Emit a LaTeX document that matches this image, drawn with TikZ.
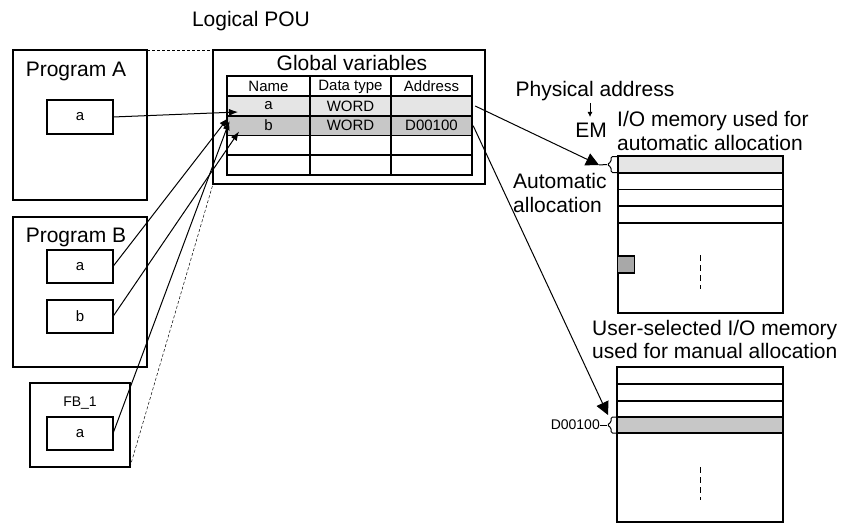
\documentclass[tikz,border=0pt]{standalone}
\usepackage{fontspec}
\setmainfont{Liberation Sans}
\usetikzlibrary{arrows.meta}
\definecolor{lightrow}{gray}{0.9}
\definecolor{midrow}{gray}{0.78}
\definecolor{cellsq}{gray}{0.66}

\begin{document}
\begin{tikzpicture}[x=1pt,y=-1pt,
  frame/.style={draw,line width=1.1pt,inner sep=0pt,outer sep=0pt},
  big/.style={font=\fontsize{21}{24}\selectfont,inner sep=0pt},
  small/.style={font=\fontsize{15}{18}\selectfont,inner sep=0pt},
  tiny/.style={font=\fontsize{14}{16}\selectfont,inner sep=0pt},
  conn/.style={line width=1pt,arrows={-Latex[length=9pt,width=7pt]}},
  bigconn/.style={line width=1pt,arrows={-Triangle[length=13pt,width=13pt]}},
  guide/.style={line width=0.5pt,dash pattern=on 3pt off 2pt},
  grid/.style={line width=1.2pt},
  midline/.style={line width=0.8pt,dash pattern=on 6pt off 4pt}]
\useasboundingbox (0,0) rectangle (843,524);

% ---------- program units ----------
\node[frame,minimum width=134pt,minimum height=150pt] (progA) at (80,125) {};
\node[big,anchor=base] at (76,77) {Program A};
\node[frame,minimum width=66pt,minimum height=34pt,small] (progAa) at (80,117) {a};

\node[frame,minimum width=134pt,minimum height=150pt] (progB) at (80,292) {};
\node[big,anchor=base] at (76,242) {Program B};
\node[frame,minimum width=66pt,minimum height=33pt,small] (progBa) at (80,266.5) {a};
\node[frame,minimum width=66pt,minimum height=33pt,small] (progBb) at (80,316.5) {b};

\node[frame,minimum width=100pt,minimum height=84pt] (fb) at (80,425) {};
\node[tiny,anchor=base] at (80,406) {FB\_1};
\node[frame,minimum width=66pt,minimum height=33pt,small] (fba) at (80,433.5) {a};

% ---------- global variable table ----------
\node[big,anchor=base] at (251,27) {Logical POU};
\node[frame,minimum width=272pt,minimum height=134pt] (gbox) at (349,117) {};
\node[big,anchor=base] at (352,71) {Global variables};

\node[fill=lightrow,inner sep=0pt,minimum width=245pt,minimum height=20pt] (rowa) at (349.5,106) {};
\node[fill=midrow,inner sep=0pt,minimum width=245pt,minimum height=19.5pt] (rowb) at (349.5,125.75) {};
\draw[grid] (227,76) rectangle (472,175);
\foreach \yy in {96,116,135.5,155} \draw[grid] (227,\yy) -- (472,\yy);
\foreach \xx in {310,391} \draw[grid] (\xx,76) -- (\xx,175);

\node[small] at (268.5,86.5) {Name};
\node[small] at (350.5,86.5) {Data type};
\node[small] at (431.5,86.5) {Address};
\node[small] at (268.5,106) {a};
\node[small] at (350.5,106) {WORD};
\node[small] at (268.5,125.5) {b};
\node[small] at (350.5,125.5) {WORD};
\node[small] at (431.5,125.5) {D00100};

\draw[guide] (progA.north east) -- (gbox.north west);
\draw[guide] (fb.south east) -- (gbox.south west);

% arrow end points on the table rows
\coordinate (tA) at (238,112);
\coordinate (tB1) at (228,118);
\coordinate (tB2) at (239,131.5);
\coordinate (tB3) at (229.5,121);
\draw[conn] (progAa.east) -- (tA);
\draw[conn] (progBa.east) -- (tB1);
\draw[conn] (progBb.east) -- (tB2);
\draw[conn] (fba.east) -- (tB3);

% ---------- I/O memory, automatic allocation ----------
\node[big,anchor=base] at (595,97) {Physical address};
\coordinate (paA) at (590,103);
\coordinate (paB) at (590,117);
\draw[line width=0.8pt,arrows={-Latex[length=5pt,width=5pt]}] (paA) -- (paB);
\node[big,anchor=base] at (591,138) {EM};
\node[big,anchor=base west] at (617,127) {I/O memory used for};
\node[big,anchor=base west] at (617,150) {automatic allocation};
\node[big,anchor=base west] at (513,188) {Automatic};
\node[big,anchor=base west] at (513,212) {allocation};

\node[fill=lightrow,inner sep=0pt,minimum width=165pt,minimum height=17pt] (emrow) at (700.5,164.5) {};
\node[frame,minimum width=165pt,minimum height=157pt] (emblk) at (700.5,234.5) {};
\foreach \yy in {173,189.5,206,223} \draw[line width=1.1pt] (618,\yy) -- (783,\yy);
\node[frame,fill=cellsq,minimum width=17pt,minimum height=17pt] (sq) at (626,264.5) {};
\coordinate (emd1) at (700,255);
\coordinate (emd2) at (700,289);
\draw[midline] (emd1) -- (emd2);

\coordinate (emtip) at (599,165);
\coordinate (embr) at (607,164.5);
\draw[line width=1pt] (emtip) -- (embr);
\draw[line width=1pt,rounded corners=1.5pt] (617,156.5) -- (611,156.5) -- (611,162) -- (embr) -- (611,167) -- (611,172.5) -- (617,172.5);
\draw[bigconn] ([xshift=3pt]rowa.east) -- (emtip);

% ---------- I/O memory, manual allocation ----------
\node[big,anchor=base west] at (592,335) {User-selected I/O memory};
\node[big,anchor=base west] at (592,358) {used for manual allocation};

\node[fill=midrow,inner sep=0pt,minimum width=166pt,minimum height=16pt] (mrow) at (700,425) {};
\node[frame,minimum width=166pt,minimum height=155pt] (mblk) at (700,444.5) {};
\foreach \yy in {384,401,417,433} \draw[line width=1.1pt] (617,\yy) -- (783,\yy);
\coordinate (md1) at (700,467);
\coordinate (md2) at (700,500);
\draw[midline] (md1) -- (md2);

\node[tiny,anchor=east] (dlab) at (600,425) {D00100};
\coordinate (mbr) at (607,425);
\draw[line width=1pt] (dlab.east) -- (mbr);
\draw[line width=1pt,rounded corners=1.5pt] (616,417) -- (611,417) -- (611,422.5) -- (mbr) -- (611,427.5) -- (611,433) -- (616,433);
\coordinate (mtip) at (608,415);
\draw[bigconn] ([xshift=1pt]rowb.east) -- (mtip);
\end{tikzpicture}
\end{document}
